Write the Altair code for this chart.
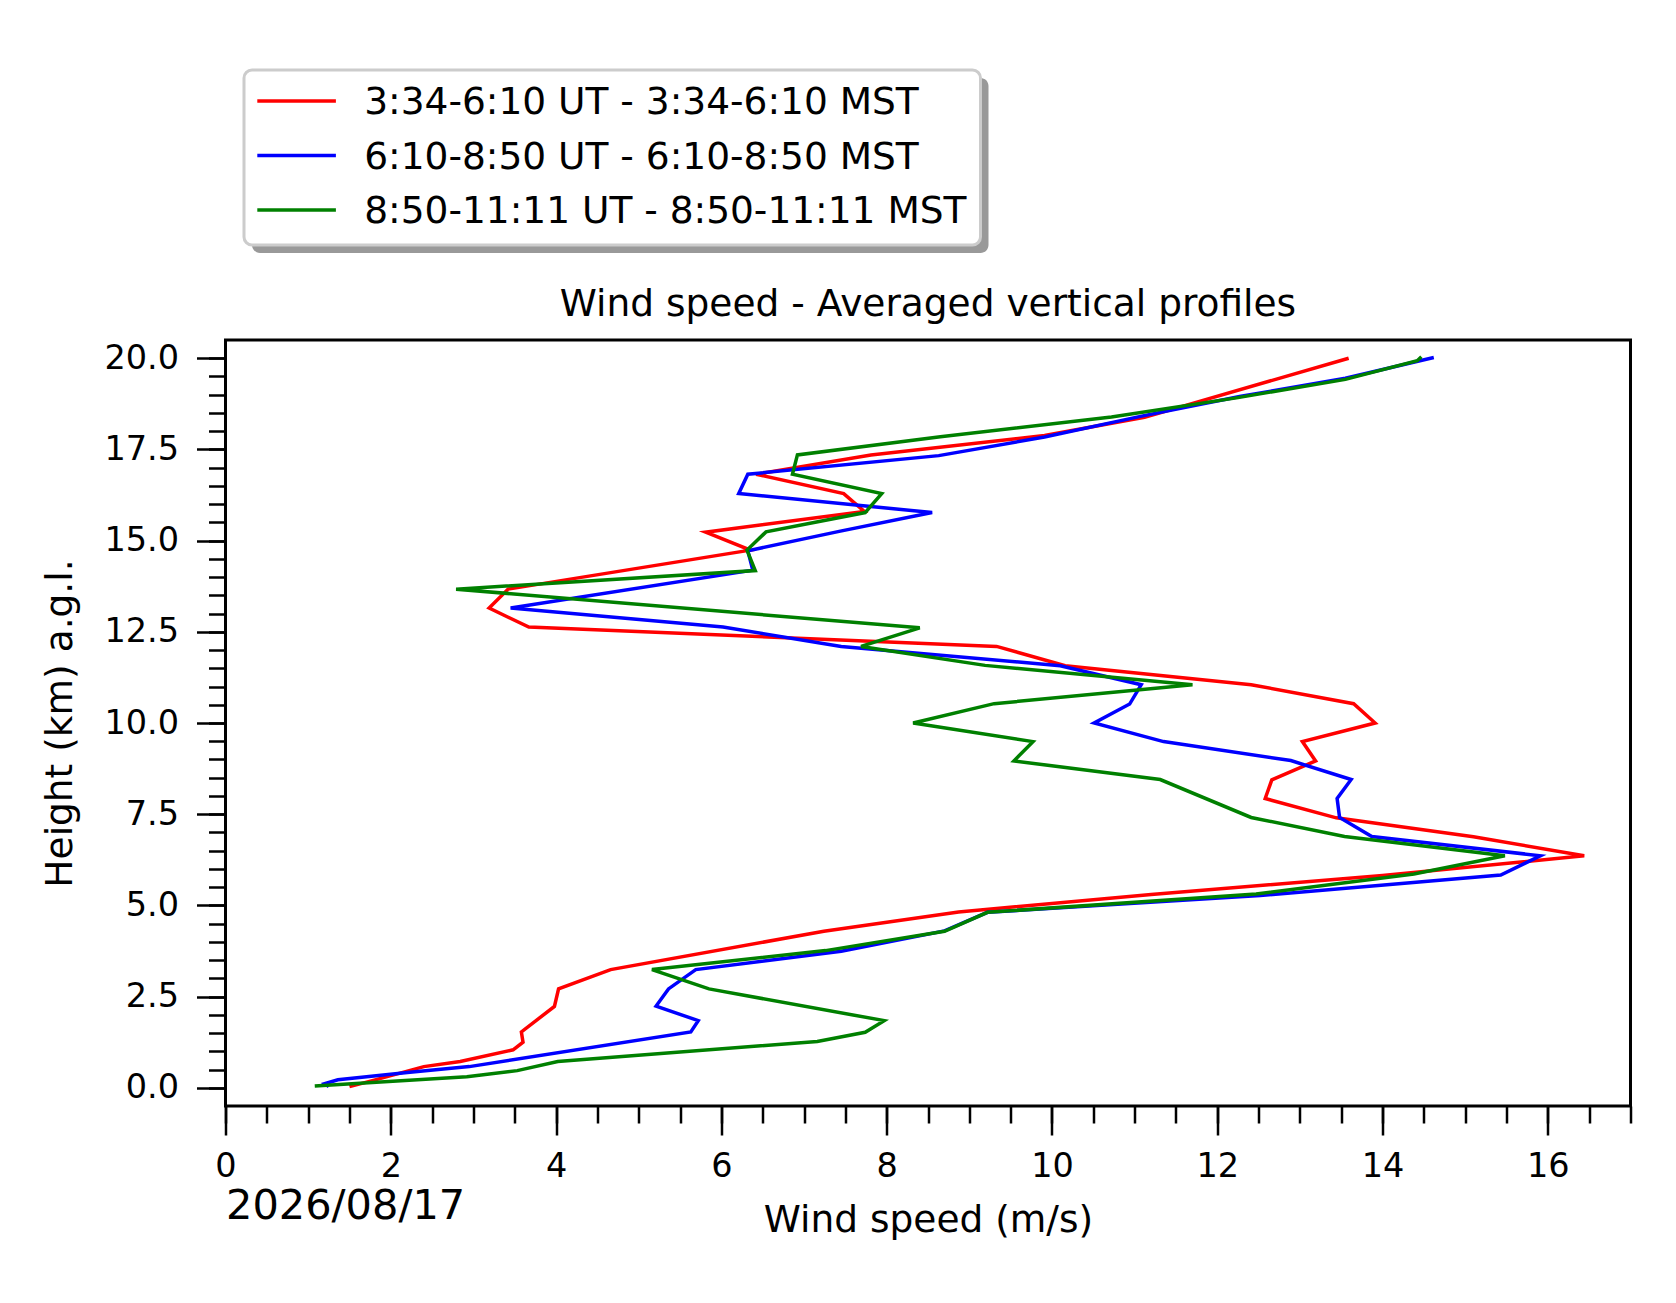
import altair as alt
import pandas as pd

labels = ["3:34-6:10 UT - 3:34-6:10 MST",
          "6:10-8:50 UT - 6:10-8:50 MST",
          "8:50-11:11 UT - 8:50-11:11 MST"]
colors = ["#ff0000", "#0000ff", "#008000"]

red_speed = [1.50, 1.80, 2.40, 2.84, 3.48, 3.60, 3.58, 3.98, 4.03, 4.66, 7.24, 8.87, 11.2, 14.0,
             16.44, 15.1, 13.44, 12.58, 12.66, 13.19, 13.03, 13.91, 13.65, 12.41, 10.16, 9.33,
             3.67, 3.19, 3.42, 6.35, 5.81, 7.73, 7.48, 6.42, 7.81, 9.91, 11.12, 13.59]
red_height = [0.03, 0.21, 0.58, 0.72, 1.04, 1.25, 1.53, 2.23, 2.71, 3.24, 4.29, 4.82, 5.30, 5.82,
              6.36, 6.88, 7.40, 7.93, 8.44, 8.96, 9.49, 10.0, 10.53, 11.05, 11.57, 12.10,
              12.63, 13.15, 13.67, 14.74, 15.23, 15.80, 16.29, 16.82, 17.35, 17.88, 18.38, 20.0]

blue_speed = [1.25, 1.20, 1.36, 2.20, 2.95, 5.63, 5.72, 5.21, 5.36, 5.69, 7.45, 8.70, 9.22, 12.52,
              15.43, 15.91, 13.87, 13.48, 13.45, 13.62, 12.89, 11.35, 10.51, 10.94, 11.08, 10.10,
              7.45, 6.02, 3.45, 6.38, 6.32, 7.44, 8.55, 6.21, 6.32, 8.63, 9.91, 11.10, 12.27,
              13.55, 14.62]
blue_height = [0.03, 0.11, 0.22, 0.42, 0.58, 1.53, 1.84, 2.24, 2.71, 3.24, 3.74, 4.30, 4.81, 5.27,
               5.83, 6.36, 6.89, 7.41, 7.93, 8.45, 8.97, 9.49, 10.0, 10.52, 11.05, 11.57,
               12.10, 12.63, 13.15, 14.19, 14.72, 15.26, 15.77, 16.29, 16.82, 17.33, 17.84, 18.42,
               18.95, 19.45, 20.02]

green_speed = [1.08, 2.92, 3.53, 4.02, 7.16, 7.74, 7.97, 5.85, 5.16, 7.26, 8.70, 9.22, 12.47, 14.38,
               15.48, 13.54, 12.41, 11.31, 9.54, 9.77, 8.32, 9.30, 11.70, 9.19, 7.69, 8.40,
               2.79, 6.41, 6.31, 6.54, 7.74, 7.94, 6.86, 6.92, 8.65, 10.72, 12.25, 13.55,
               14.42, 14.47]
green_height = [0.05, 0.30, 0.47, 0.72, 1.27, 1.52, 1.84, 2.71, 3.24, 3.76, 4.29, 4.81, 5.31, 5.86,
                6.36, 6.89, 7.41, 8.45, 8.96, 9.49, 10.0, 10.53, 11.05, 11.58, 12.10, 12.61,
                13.67, 14.18, 14.74, 15.24, 15.77, 16.29, 16.82, 17.35, 17.85, 18.39, 18.92, 19.42,
                19.93, 20.04]

x_major = [0, 2, 4, 6, 8, 10, 12, 14, 16]
x_minor = [i * 0.5 for i in range(35)]
y_major = [0, 2.5, 5, 7.5, 10, 12.5, 15, 17.5, 20]
y_minor = [i * 0.5 for i in range(41)]

title_text = "Wind speed - Averaged vertical profiles"
x_title = "Wind speed (m/s)"
y_title = "Height (km) a.g.l."
date_text = "2026/08/17"

rows = []
for lab, sp, ht in zip(labels, [red_speed, blue_speed, green_speed],
                       [red_height, blue_height, green_height]):
    for i, (s, h) in enumerate(zip(sp, ht)):
        rows.append({"series": lab, "speed": s, "height": h, "idx": i})
df = pd.DataFrame(rows)

FONT = "DejaVu Sans"
xscale = alt.Scale(domain=[0, 17], nice=False, zero=False)
yscale = alt.Scale(domain=[-0.5, 20.5], nice=False, zero=False)
cscale = alt.Scale(domain=labels, range=colors)

lines = alt.Chart(df).mark_line(strokeWidth=3.5).encode(
    x=alt.X("speed:Q", scale=xscale,
            axis=alt.Axis(orient="bottom", values=x_major, tickSize=29, tickWidth=2.5,
                          tickColor="black", domain=False, grid=False,
                          labelFontSize=33.5, labelPadding=15, labelColor="black",
                          labelFont=FONT, labelFlush=False,
                          title=x_title, titleFontSize=37.5, titleFontWeight="normal",
                          titleColor="black", titleFont=FONT, titleY=125,
                          titleBaseline="alphabetic")),
    y=alt.Y("height:Q", scale=yscale,
            axis=alt.Axis(orient="left", values=y_major, format=".1f", tickSize=29,
                          tickWidth=2.5, tickColor="black", domain=False, grid=False,
                          labelFontSize=33.5, labelPadding=18, labelColor="black",
                          labelFont=FONT, labelFlush=False,
                          title=y_title, titleFontSize=37.5, titleFontWeight="normal",
                          titleColor="black", titleFont=FONT, titleX=-165.5, titleY=383,
                          titleBaseline="middle")),
    color=alt.Color("series:N", scale=cscale, legend=None),
    order=alt.Order("idx:Q"),
)

minor = alt.Chart(df).mark_line(strokeOpacity=0).encode(
    x=alt.X("speed:Q", scale=xscale,
            axis=alt.Axis(orient="bottom", values=x_minor, tickSize=17, tickWidth=2.5,
                          tickColor="black", domain=False, grid=False, labels=False,
                          title=date_text, titleFontSize=41.5, titleFontWeight="normal",
                          titleColor="black", titleFont=FONT, titleX=0, titleY=112,
                          titleAlign="left", titleAnchor="start",
                          titleBaseline="alphabetic")),
    y=alt.Y("height:Q", scale=yscale,
            axis=alt.Axis(orient="left", values=y_minor, tickSize=17, tickWidth=2.5,
                          tickColor="black", domain=False, grid=False, labels=False,
                          title=None)),
    detail="series:N",
    order=alt.Order("idx:Q"),
)

main = alt.layer(minor, lines).resolve_axis(x="independent", y="independent").properties(
    width=1405, height=766,
    title=alt.TitleParams(text=title_text, fontSize=37.5, fontWeight="normal", font=FONT,
                          color="black", anchor="middle", baseline="bottom", offset=-21),
)

# legend panel
legend_df = pd.DataFrame({"series": labels, "pos": [0, 1, 2]})
box_df = pd.DataFrame({"k": [0]})
shadow = alt.Chart(box_df).mark_rect(fill="#999999", cornerRadius=8).encode(
    x=alt.value(26.5), x2=alt.value(763), y=alt.value(8), y2=alt.value(183))
box = alt.Chart(box_df).mark_rect(fill="white", stroke="#cccccc", strokeWidth=3,
                                  cornerRadius=8).encode(
    x=alt.value(18.5), x2=alt.value(755), y=alt.value(0), y2=alt.value(175))
yleg = alt.Y("pos:Q", scale=alt.Scale(domain=[0, 2], range=[31, 140], nice=False, zero=False),
             axis=None)
leg_rules = alt.Chart(legend_df).mark_rule(strokeWidth=3.5).encode(
    x=alt.value(31.8), x2=alt.value(110.4), y=yleg,
    color=alt.Color("series:N", scale=cscale, legend=None))
leg_text = alt.Chart(legend_df).mark_text(align="left", baseline="middle", fontSize=37.5,
                                          font=FONT, color="black", dy=2.4).encode(
    x=alt.value(138.7), y=yleg, text="series:N")
legend_chart = alt.layer(shadow, box, leg_rules, leg_text).properties(
    width=770, height=185, view=alt.ViewBackground(strokeOpacity=0))

chart = alt.vconcat(legend_chart, main, spacing=29).properties(
    padding={"left": 31.5, "top": 60, "right": 10, "bottom": 10},
    background="white",
).configure(font=FONT, view=alt.ViewConfig(stroke="black", strokeWidth=3))

chart.save("out.html", embed_options={"renderer": "svg", "actions": False})
